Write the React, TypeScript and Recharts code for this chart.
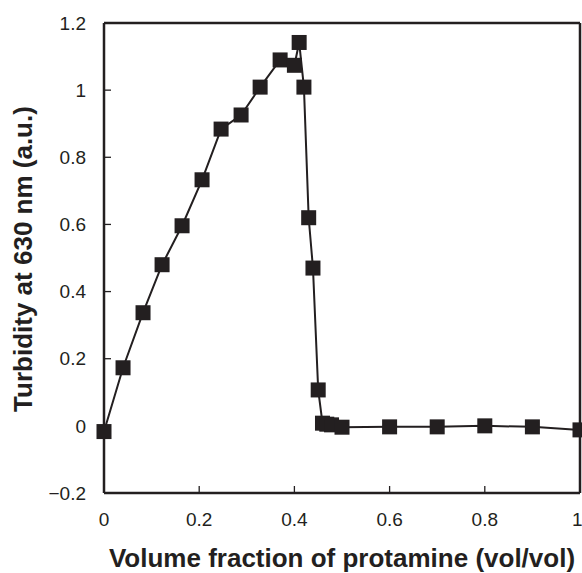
import { LineChart, Line, XAxis, YAxis, ReferenceLine } from "recharts";

// volume fraction of protamine (vol/vol)
const fractions = [
  0, 0.04, 0.082, 0.122, 0.164, 0.206, 0.246, 0.288, 0.328, 0.37, 0.4, 0.41,
  0.42, 0.43, 0.439, 0.45, 0.459, 0.468, 0.478, 0.5, 0.6, 0.7, 0.8, 0.9, 1.0,
];
// turbidity at 630 nm (a.u.)
const turbidity = [
  -0.017, 0.173, 0.337, 0.48, 0.596, 0.733, 0.884, 0.926, 1.009, 1.09, 1.074,
  1.142, 1.009, 0.62, 0.47, 0.107, 0.008, 0.005, 0.003, -0.004, -0.003,
  -0.003, 0.0, -0.003, -0.012,
];

const xTicks = [0, 0.2, 0.4, 0.6, 0.8, 1];
const yTicks = [-0.2, 0, 0.2, 0.4, 0.6, 0.8, 1, 1.2];

const INK = "#231f20";
const FONT = '"Liberation Sans", Arial, Helvetica, sans-serif';

const chartData = fractions.map((f, i) => ({ x: f, y: turbidity[i] }));

const fmt = (v: number) => (v < 0 ? `\u2212${Math.abs(v)}` : `${v}`);

const SquareDot = (props: any) => {
  const { cx, cy, index } = props;
  if (cx == null || cy == null) return null;
  return (
    <rect key={`sq-${index}`} x={cx - 7.5} y={cy - 7.5} width={15} height={15} fill={INK} />
  );
};

export default function App() {
  return (
    <div style={{ position: "absolute", left: 0, top: 0, background: "#fff" }}>
      <LineChart
        width={582}
        height={573}
        data={chartData}
        margin={{ top: 23, right: 2, bottom: 0, left: 0 }}
      >
        <XAxis
          dataKey="x"
          type="number"
          domain={[0, 1]}
          ticks={xTicks}
          tickFormatter={fmt}
          height={80}
          tickSize={-7}
          tickMargin={27}
          axisLine={{ stroke: INK, strokeWidth: 2.5 }}
          tickLine={{ stroke: INK, strokeWidth: 1.3 }}
          tick={{ fill: INK, fontSize: 19, fontFamily: FONT }}
          label={{
            content: () => (
              <text
                x={342}
                y={567}
                textAnchor="middle"
                fill={INK}
                fontSize={26}
                fontWeight="bold"
                fontFamily={FONT}
              >
                Volume fraction of protamine (vol/vol)
              </text>
            ),
          }}
        />
        <YAxis
          dataKey="y"
          type="number"
          domain={[-0.2, 1.2]}
          ticks={yTicks}
          tickFormatter={fmt}
          width={104}
          tickSize={-7}
          tickMargin={25}
          axisLine={{ stroke: INK, strokeWidth: 2.5 }}
          tickLine={{ stroke: INK, strokeWidth: 1.3 }}
          tick={{ fill: INK, fontSize: 19, fontFamily: FONT }}
          label={{
            content: () => (
              <text
                x={32}
                y={259}
                transform="rotate(-90, 32, 259)"
                textAnchor="middle"
                fill={INK}
                fontSize={26}
                fontWeight="bold"
                fontFamily={FONT}
              >
                Turbidity at 630 nm (a.u.)
              </text>
            ),
          }}
        />
        {/* frame: top and right edges */}
        <ReferenceLine y={1.2} stroke={INK} strokeWidth={2.5} />
        <ReferenceLine x={1} stroke={INK} strokeWidth={2.5} />
        <Line
          dataKey="y"
          type="linear"
          stroke={INK}
          strokeWidth={2}
          dot={SquareDot}
          activeDot={false}
          isAnimationActive={false}
        />
      </LineChart>
    </div>
  );
}
